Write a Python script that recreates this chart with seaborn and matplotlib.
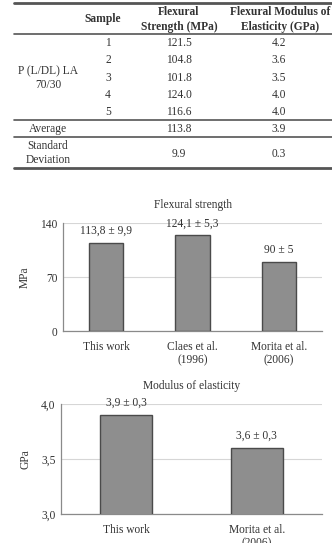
import matplotlib
matplotlib.use('Agg')
import matplotlib.pyplot as plt
import pandas as pd
import seaborn as sns
from matplotlib.ticker import FuncFormatter

# table data
table_header = ['Sample', 'Flexural\nStrength (MPa)', 'Flexural Modulus of\nElasticity (GPa)']
material = 'P (L/DL) LA\n70/30'
samples = ['1', '2', '3', '4', '5']
strength = ['121.5', '104.8', '101.8', '124.0', '116.6']
modulus = ['4.2', '3.6', '3.5', '4.0', '4.0']
average = ['113.8', '3.9']
std_dev = ['9.9', '0.3']

# chart data
flex_sources = ['This work', 'Claes et al.\n(1996)', 'Morita et al.\n(2006)']
flex_values = [113.8, 124.1, 90.0]
flex_labels = ['113,8 ± 9,9', '124,1 ± 5,3', '90 ± 5']

mod_sources = ['This work', 'Morita et al.\n(2006)']
mod_values = [3.9, 3.6]
mod_labels = ['3,9 ± 0,3', '3,6 ± 0,3']

W, H = 332, 543
TXT = '#333333'
BAR = '#8e8e8e'
EDGE = '#4a4a4a'
FS = 8.3

sns.set_style('white')
plt.rcParams['font.family'] = ['Liberation Serif', 'DejaVu Serif']
plt.rcParams['font.size'] = FS

fig = plt.figure(figsize=(W / 100, H / 100), dpi=100)


def px_axes(left, top, right, bottom):
    return fig.add_axes([left / W, 1 - bottom / H, (right - left) / W, (bottom - top) / H])


# ---- table ----
tab = px_axes(0, 0, W, H)
tab.set_xlim(0, W)
tab.set_ylim(H, 0)
tab.axis('off')
for y, lw in [(3, 2.0), (34, 1.2), (120, 1.2), (137, 1.2), (168, 2.0)]:
    tab.plot([14, W], [y, y], color='#555555', lw=lw)
tab.text(103, 19, table_header[0], ha='center', va='center', fontsize=FS, fontweight='bold', color=TXT)
tab.text(179, 19.5, table_header[1], ha='center', va='center', fontsize=FS, fontweight='bold',
         color=TXT, linespacing=1.25)
tab.text(280, 19.5, table_header[2], ha='center', va='center', fontsize=FS, fontweight='bold',
         color=TXT, linespacing=1.25)
tab.text(48, 78, material, ha='center', va='center', fontsize=FS, color=TXT, linespacing=1.15)
for i, (s, f, m) in enumerate(zip(samples, strength, modulus)):
    y = 43 + i * 17.3
    tab.text(108, y, s, ha='center', va='center', fontsize=FS, color=TXT)
    tab.text(179, y, f, ha='center', va='center', fontsize=FS, color=TXT)
    tab.text(279, y, m, ha='center', va='center', fontsize=FS, color=TXT)
tab.text(48, 129, 'Average', ha='center', va='center', fontsize=FS, color=TXT)
tab.text(179, 129, average[0], ha='center', va='center', fontsize=FS, color=TXT)
tab.text(279, 129, average[1], ha='center', va='center', fontsize=FS, color=TXT)
tab.text(48, 153, 'Standard\nDeviation', ha='center', va='center', fontsize=FS, color=TXT,
         linespacing=1.25)
tab.text(179, 154, std_dev[0], ha='center', va='center', fontsize=FS, color=TXT)
tab.text(279, 154, std_dev[1], ha='center', va='center', fontsize=FS, color=TXT)


def bar_chart(ax, cats, vals, labels, title, ylabel, ylim, yticks, fmt):
    df = pd.DataFrame({'source': cats, 'value': vals})
    sns.barplot(data=df, x='source', y='value', color=BAR, width=0.4,
                edgecolor=EDGE, linewidth=1.0, saturation=1, ax=ax, zorder=3)
    ax.set_ylim(*ylim)
    ax.set_xlim(-0.5, len(cats) - 0.5)
    ax.set_yticks(yticks)
    ax.yaxis.set_major_formatter(FuncFormatter(fmt))
    ax.grid(axis='y', color='#d6d6d6', lw=0.8, zorder=0)
    ax.set_axisbelow(True)
    for side in ['top', 'right']:
        ax.spines[side].set_visible(False)
    for side in ['left', 'bottom']:
        ax.spines[side].set_color('#8a8a8a')
        ax.spines[side].set_linewidth(0.9)
    ax.tick_params(axis='y', length=0, labelsize=FS, colors=TXT, pad=4)
    ax.tick_params(axis='x', length=0, labelsize=FS, colors=TXT, pad=7)
    ax.set_xlabel('')
    ax.set_ylabel(ylabel, fontsize=FS, color=TXT, labelpad=7)
    ax.set_title(title, fontsize=FS, color=TXT, pad=11)
    for i, (v, lab) in enumerate(zip(vals, labels)):
        ax.annotate(lab, (i, v), xytext=(0, 12), textcoords='offset pixels',
                    ha='center', va='center', fontsize=FS, color=TXT)


ax1 = px_axes(63, 223, 322, 331)
bar_chart(ax1, flex_sources, flex_values, flex_labels, 'Flexural strength', 'MPa',
          (0, 140), [0, 70, 140], lambda v, p: f'{v:.0f}')

ax2 = px_axes(61, 404, 322, 514)
bar_chart(ax2, mod_sources, mod_values, mod_labels, 'Modulus of elasticity', 'GPa',
          (3.0, 4.0), [3.0, 3.5, 4.0], lambda v, p: f'{v:.1f}'.replace('.', ','))

fig.savefig('out.png', dpi=100)
